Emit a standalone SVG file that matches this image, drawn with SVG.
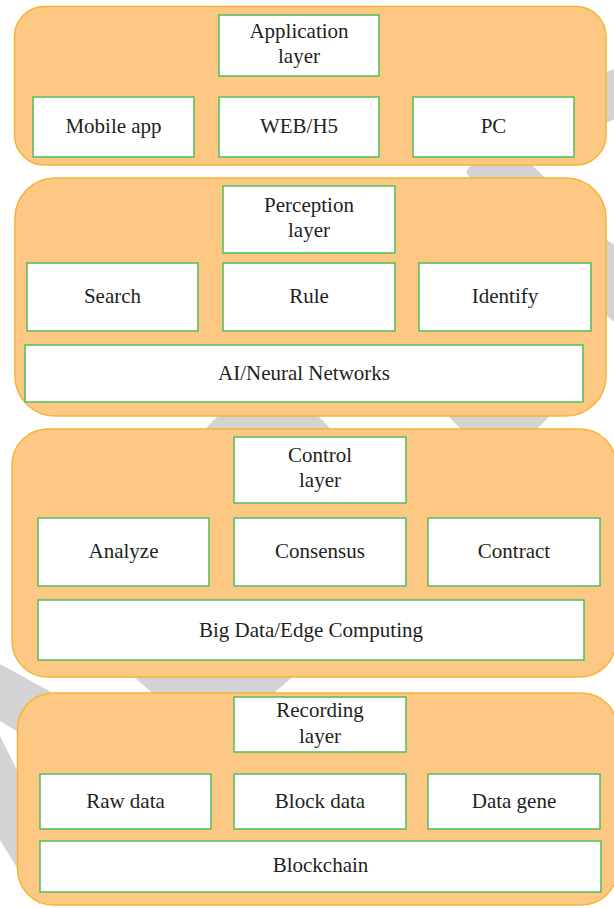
<svg xmlns="http://www.w3.org/2000/svg" width="614" height="908" viewBox="0 0 614 908">
  <style>
    .bg { fill: #d3d3d3; stroke: none; }
    .layer { fill: #fcc884; stroke: #f6b436; stroke-width: 1.5; }
    .box { fill: #ffffff; stroke: #5cbf62; stroke-width: 1.6; }
    text { font-family: "Liberation Serif", "Times New Roman", serif; font-size: 21px; fill: #231f20; text-anchor: middle; }
  </style>
  <rect x="0" y="0" width="614" height="908" fill="#ffffff"/>
  <g id="watermark">
    <polygon class="bg" points="590,78 620,67 620,117 590,130"/>
    <polygon class="bg" points="475,158 466,172 475,186 553,186 525,158"/>
    <polygon class="bg" points="590,228 620,249 620,326 590,303"/>
    <polygon class="bg" points="229,405 307,405 338,436 198,436"/>
    <polygon class="bg" points="437,405 561,405 530,436 468,436"/>
    <polygon class="bg" points="115,660 312,660 266,700 160,700"/>
    <polygon class="bg" points="0,664 80,708 80,770 0,721"/>
    <polygon class="bg" points="0,736 40,816 40,905 0,840"/>
  </g>
  <g id="connectors"></g>

  <g id="application-layer">
    <rect class="layer" x="14.5" y="6.5" width="591.5" height="158.5" rx="30"/>
    <g id="app-title">
      <rect class="box" x="219" y="15" width="160" height="61"/>
      <text x="299" y="38">Application</text>
      <text x="299" y="63">layer</text>
    </g>
    <g id="mobile-app">
      <rect class="box" x="33" y="97" width="161" height="60"/>
      <text x="113.5" y="133">Mobile app</text>
    </g>
    <g id="web-h5">
      <rect class="box" x="219" y="97" width="160" height="60"/>
      <text x="299" y="133">WEB/H5</text>
    </g>
    <g id="pc">
      <rect class="box" x="413" y="97" width="161" height="60"/>
      <text x="493.5" y="133">PC</text>
    </g>
  </g>

  <g id="perception-layer">
    <rect class="layer" x="15" y="178" width="591" height="238" rx="40"/>
    <g id="perception-title">
      <rect class="box" x="223" y="186" width="172" height="67"/>
      <text x="309" y="212">Perception</text>
      <text x="309" y="237">layer</text>
    </g>
    <g id="search">
      <rect class="box" x="27" y="263" width="171" height="68"/>
      <text x="112.5" y="303">Search</text>
    </g>
    <g id="rule">
      <rect class="box" x="223" y="263" width="172" height="68"/>
      <text x="309" y="303">Rule</text>
    </g>
    <g id="identify">
      <rect class="box" x="419" y="263" width="172" height="68"/>
      <text x="505" y="303">Identify</text>
    </g>
    <g id="ai-neural">
      <rect class="box" x="25" y="345" width="558" height="57"/>
      <text x="304" y="379.5">AI/Neural Networks</text>
    </g>
  </g>

  <g id="control-layer">
    <rect class="layer" x="12" y="429" width="604" height="248" rx="36"/>
    <g id="control-title">
      <rect class="box" x="234" y="437" width="172" height="66"/>
      <text x="320" y="462">Control</text>
      <text x="320" y="487">layer</text>
    </g>
    <g id="analyze">
      <rect class="box" x="38" y="518" width="171" height="68"/>
      <text x="123.5" y="558">Analyze</text>
    </g>
    <g id="consensus">
      <rect class="box" x="234" y="518" width="172" height="68"/>
      <text x="320" y="558">Consensus</text>
    </g>
    <g id="contract">
      <rect class="box" x="428" y="518" width="172" height="68"/>
      <text x="514" y="558">Contract</text>
    </g>
    <g id="big-data">
      <rect class="box" x="38" y="600" width="546" height="60"/>
      <text x="311" y="636.5">Big Data/Edge Computing</text>
    </g>
  </g>

  <g id="recording-layer">
    <rect class="layer" x="17.5" y="693" width="600" height="212" rx="36"/>
    <g id="recording-title">
      <rect class="box" x="234" y="697" width="172" height="55"/>
      <text x="320" y="717">Recording</text>
      <text x="320" y="743">layer</text>
    </g>
    <g id="raw-data">
      <rect class="box" x="40" y="774" width="171" height="55"/>
      <text x="125.5" y="807.5">Raw data</text>
    </g>
    <g id="block-data">
      <rect class="box" x="234" y="774" width="172" height="55"/>
      <text x="320" y="807.5">Block data</text>
    </g>
    <g id="data-gene">
      <rect class="box" x="428" y="774" width="172" height="55"/>
      <text x="514" y="807.5">Data gene</text>
    </g>
    <g id="blockchain">
      <rect class="box" x="40" y="841" width="561" height="51"/>
      <text x="320.5" y="872">Blockchain</text>
    </g>
  </g>
</svg>
